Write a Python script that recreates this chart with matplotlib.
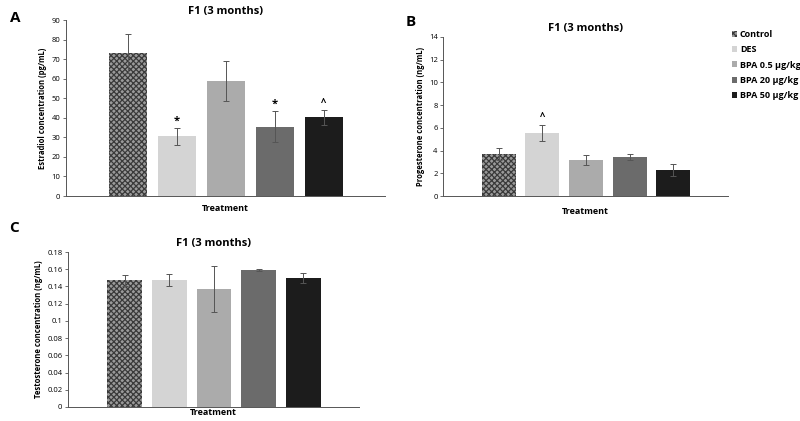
import numpy as np
import matplotlib
matplotlib.use("Agg")
import matplotlib.pyplot as plt

groups = ["Control", "DES", "BPA 0.5 µg/kg", "BPA 20 µg/kg", "BPA 50 µg/kg"]
colors = ["#8a8a8a", "#d4d4d4", "#ababab", "#6b6b6b", "#1c1c1c"]

estradiol = [73.0, 30.5, 59.0, 35.5, 40.2]
estradiol_err = [10.0, 4.5, 10.2, 8.0, 3.7]
estradiol_marks = ["", "*", "", "*", "^"]

progesterone = [3.7, 5.55, 3.15, 3.45, 2.3]
progesterone_err = [0.5, 0.7, 0.45, 0.25, 0.5]
progesterone_marks = ["", "^", "", "", ""]

testosterone = [0.147, 0.147, 0.137, 0.159, 0.150]
testosterone_err = [0.006, 0.007, 0.027, 0.001, 0.006]

plt.rcParams['font.family'] = ['Open Sans', 'DejaVu Sans']
plt.rcParams['hatch.linewidth'] = 0.9


def fmt_small(t):
    if t == 0:
        return "0"
    s = "%.2f" % t
    return s.rstrip('0')


def panel(ax, vals, errs, ylim, yticks, ylabel, marks=None, mark_off=0, fmt=None):
    x = np.arange(len(vals))
    bars = ax.bar(x, vals, width=0.78, color=colors, linewidth=0,
                  yerr=errs, error_kw=dict(ecolor='#555555', elinewidth=0.7, capsize=2, capthick=0.7))
    # control bar has the checkered fill
    bars[0].set_facecolor('#9a9a9a')
    bars[0].set_edgecolor('#3a3a3a')
    bars[0].set_hatch('xxxxxx')
    bars[0].set_linewidth(0)
    ax.set_xlim(-1.27, 5.25)
    ax.set_ylim(*ylim)
    ax.set_yticks(yticks)
    if fmt:
        ax.set_yticklabels([fmt(t) for t in yticks])
    ax.set_xticks([])
    for s in ['top', 'right']:
        ax.spines[s].set_visible(False)
    for s in ['left', 'bottom']:
        ax.spines[s].set_color('#555555')
        ax.spines[s].set_linewidth(0.7)
    ax.tick_params(axis='y', labelsize=5.5, length=2, width=0.6, color='#555555', pad=2)
    ax.set_ylabel(ylabel, fontsize=5.5, fontweight='bold', labelpad=3)
    ax.set_xlabel("Treatment", fontsize=6.5, fontweight='bold', labelpad=6)
    ax.set_title("F1 (3 months)", fontsize=8, fontweight='bold', pad=4)
    if marks:
        for i, m in enumerate(marks):
            if m:
                ax.text(x[i], vals[i] + errs[i] + mark_off, m, ha='center', va='bottom',
                        fontsize=8 if m == '*' else 7, fontweight='bold')
    return bars


fig = plt.figure(figsize=(8, 4.21), dpi=100)

axA = fig.add_axes([0.0825, 0.5344, 0.399, 0.418])
panel(axA, estradiol, estradiol_err, (0, 90), np.arange(0, 91, 10),
      "Estradiol concentration (pg/mL)", estradiol_marks, 0.5)
axA.title.set_y(0.99)

axB = fig.add_axes([0.554, 0.5344, 0.356, 0.378])
barsB = panel(axB, progesterone, progesterone_err, (0, 14), np.arange(0, 15, 2),
              "Progesterone concentration (ng/mL)", progesterone_marks, 0.2)
axB.xaxis.labelpad = 8
axB.title.set_y(1.03)

axC = fig.add_axes([0.085, 0.0333, 0.364, 0.368])
panel(axC, testosterone, testosterone_err, (0, 0.18), np.arange(0, 0.181, 0.02),
      "Testosterone concentration (ng/mL)", fmt=fmt_small)
axC.xaxis.labelpad = 1
axC.title.set_y(1.01)

axB.legend(barsB, groups, loc='upper left', bbox_to_anchor=(0.985, 1.095), frameon=False,
           handlelength=0.6, handleheight=0.6, handletextpad=0.3,
           labelspacing=0.7, prop=dict(weight='bold', size=6.5))

fig.text(0.012, 0.975, "A", fontsize=11, fontweight='bold', va='top')
fig.text(0.507, 0.965, "B", fontsize=11, fontweight='bold', va='top')
fig.text(0.012, 0.475, "C", fontsize=11, fontweight='bold', va='top')

fig.savefig("out.png", dpi=100)
